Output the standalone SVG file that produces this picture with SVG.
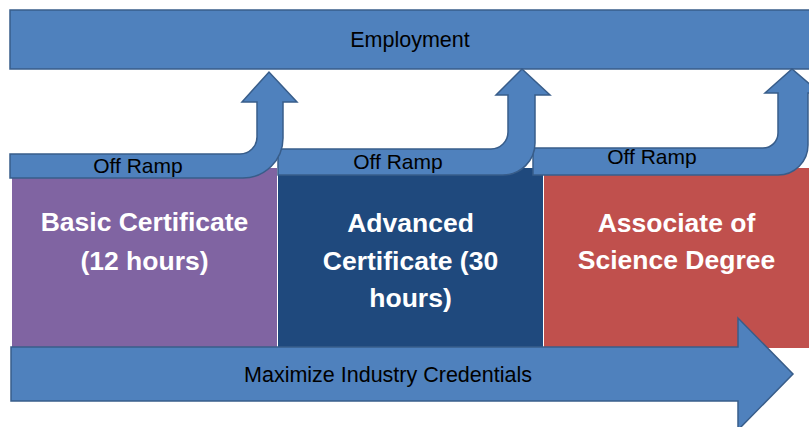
<svg xmlns="http://www.w3.org/2000/svg" width="809" height="427" viewBox="0 0 809 427">
<style>
.blue{fill:#4F81BD;stroke:#385D8A;stroke-width:1.5}
.lbl{font-family:"Liberation Sans",Arial,sans-serif;font-size:21px;fill:#000;text-anchor:middle}
.ttl{font-family:"Liberation Sans",Arial,sans-serif;font-size:26.5px;font-weight:bold;fill:#fff;text-anchor:middle}
</style>
<rect width="809" height="427" fill="#fff"/>
<g id="basic">
<rect x="12" y="168" width="265" height="180" fill="#8064A2"/>
<text class="ttl" x="144.5" y="231">Basic Certificate</text>
<text class="ttl" x="144.5" y="270">(12 hours)</text>
</g>
<g id="advanced">
<rect x="278" y="168" width="265" height="180" fill="#1F497D"/>
<text class="ttl" x="410.5" y="232">Advanced</text>
<text class="ttl" x="410.5" y="270">Certificate (30</text>
<text class="ttl" x="410.5" y="307">hours)</text>
</g>
<g id="associate">
<rect x="544" y="168" width="270" height="180" fill="#C0504D"/>
<text class="ttl" x="676.5" y="232">Associate of</text>
<text class="ttl" x="676.5" y="269">Science Degree</text>
</g>
<g id="employment">
<rect class="blue" x="10" y="10" width="810" height="59"/>
<text class="lbl" x="410" y="47" style="font-size:21.5px">Employment</text>
</g>
<g id="credentials">
<path class="blue" d="M11,347 L738,347 L738,318 L793,374 L738,430 L738,401 L11,401 Z"/>
<text class="lbl" x="388" y="382" style="font-size:21.5px">Maximize Industry Credentials</text>
</g>
<g id="connectors">
<g id="ramp3">
<path class="blue" d="M533,148 L763,148 A15,15 0 0 0 778,133 L778,93 L765,93 L792,69 L820,93 L808,93 L808,145 A30,30 0 0 1 778,175 L533,175 Z"/>
<text class="lbl" x="652" y="164">Off Ramp</text>
</g>
<g id="ramp2">
<path class="blue" d="M278,149 L491,149 A17,17 0 0 0 508,132 L508,95 L496,95 L522,69 L550,95 L535,95 L535,143 A32,32 0 0 1 503,175 L278,175 Z"/>
<text class="lbl" x="398" y="169">Off Ramp</text>
</g>
<g id="ramp1">
<path class="blue" d="M10,154 L240,154 A17,17 0 0 0 257,137 L257,102 L242,102 L269,72 L297,102 L283,102 L283,138 A40,40 0 0 1 243,178 L10,178 Z"/>
<text class="lbl" x="138" y="173">Off Ramp</text>
</g>
</g>
</svg>
